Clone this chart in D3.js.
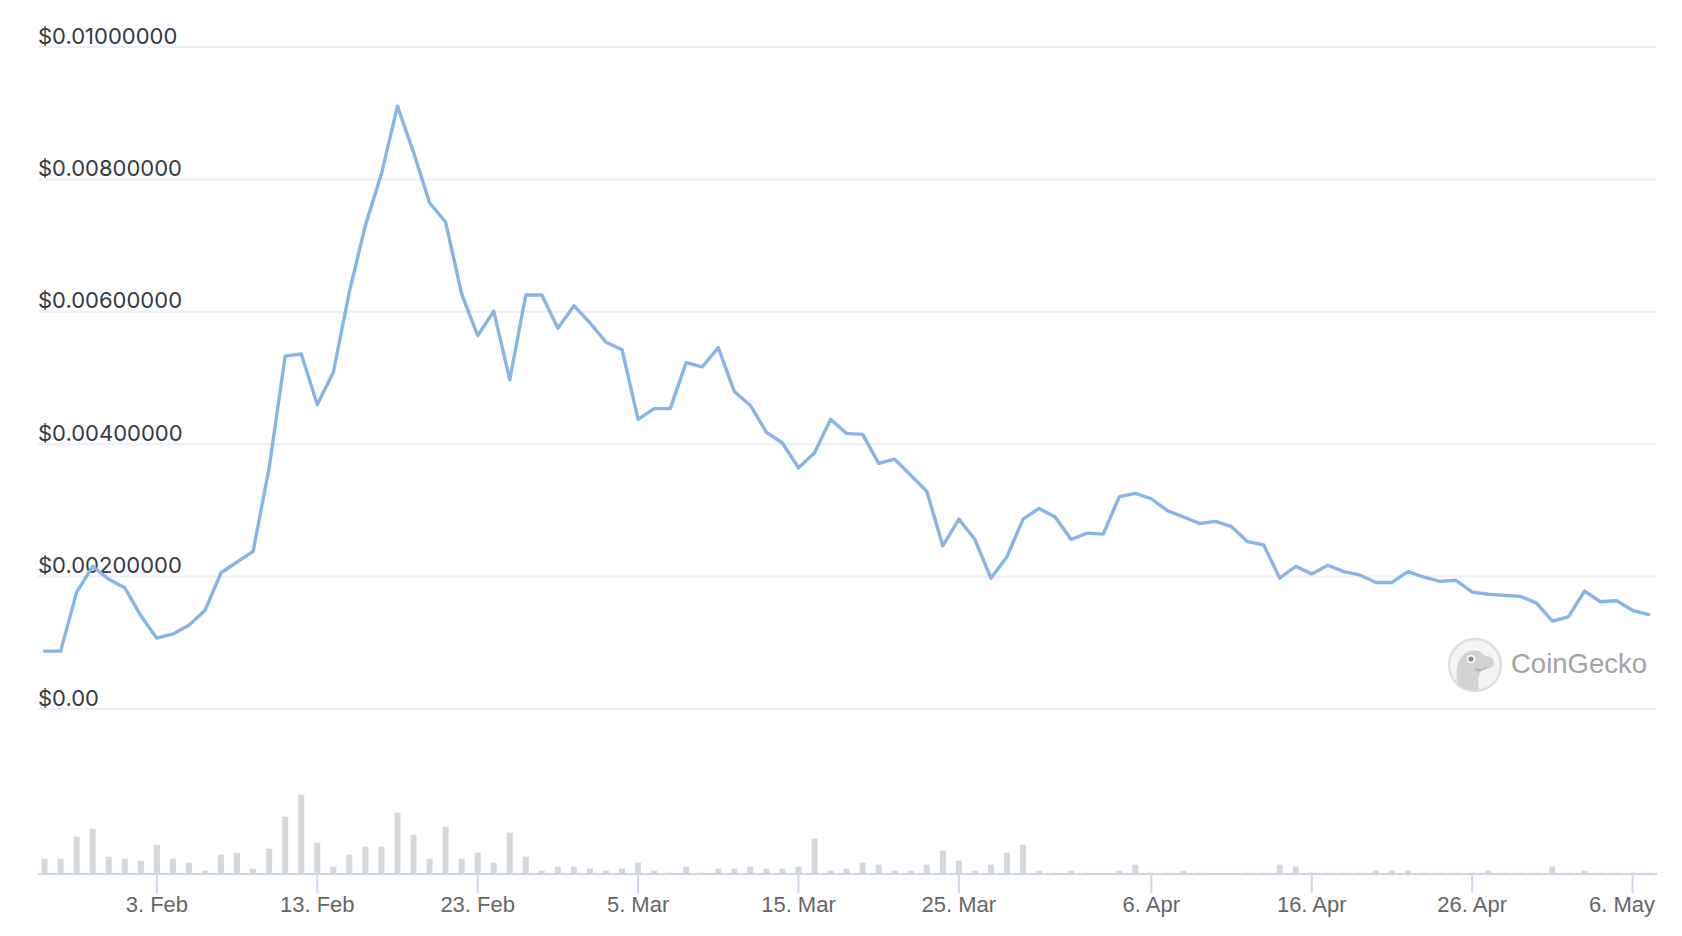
<!DOCTYPE html>
<html>
<head>
<meta charset="utf-8">
<script src="https://cdn.jsdelivr.net/npm/d3@7/dist/d3.min.js"></script>
<style>
  html, body { margin: 0; padding: 0; background: #ffffff; }
  svg { display: block; }
  text { font-family: "Liberation Sans", Arial, Helvetica, sans-serif; }
  .ylab { font-family: Inter, "Liberation Sans", Arial, sans-serif; }
</style>
</head>
<body>
<svg id="chart" width="1682" height="936"></svg>
<script>
// ---------------- DATA ----------------
const startDate = "2023-01-27";          // first daily point
const priceValues = [
  0.000875,0.000875,0.001766,0.002155,0.001960,0.001831,0.001410,0.001069,0.001134,0.001264,
  0.001491,0.002058,0.002220,0.002382,0.003645,0.005331,0.005363,0.004601,0.005087,0.006303,
  0.007307,0.008085,0.009106,0.008409,0.007647,0.007356,0.006270,0.005638,0.006011,0.004974,
  0.006254,0.006254,0.005752,0.006092,0.005833,0.005541,0.005428,0.004375,0.004537,0.004537,
  0.005233,0.005168,0.005460,0.004796,0.004585,0.004180,0.004018,0.003645,0.003872,0.004375,
  0.004164,0.004148,0.003710,0.003775,0.003532,0.003289,0.002463,0.002868,0.002560,0.001977,
  0.002301,0.002868,0.003030,0.002900,0.002560,0.002657,0.002641,0.003208,0.003257,0.003176,
  0.002997,0.002900,0.002803,0.002835,0.002754,0.002528,0.002479,0.001977,0.002155,0.002041,
  0.002171,0.002074,0.002025,0.001912,0.001912,0.002074,0.001993,0.001928,0.001944,0.001766,
  0.001734,0.001717,0.001701,0.001604,0.001329,0.001393,0.001782,0.001620,0.001636,0.001491,0.001426
];
// daily volume (relative units, thousands USD)
const volumeValues = [
  46,46,112,136,52,46,40,88,46,34,
  10,58,64,16,76,172,238,94,22,58,
  82,82,184,118,46,142,46,64,34,124,
  52,10,22,22,16,10,16,34,10,4,
  22,4,16,16,22,16,16,22,106,10,
  16,34,28,10,10,28,70,40,10,28,
  64,88,10,4,10,4,2,10,28,4,
  4,10,4,1,1,4,4,28,22,4,
  4,4,4,10,10,10,4,4,4,4,
  10,4,4,4,22,4,10,4,4,4,4
];
const yTickValues = [0, 0.002, 0.004, 0.006, 0.008, 0.010];
const yTickLabels = ["$0.00", "$0.00200000", "$0.00400000", "$0.00600000", "$0.00800000", "$0.01000000"];
const xTickDates = ["2023-02-03","2023-02-13","2023-02-23","2023-03-05","2023-03-15","2023-03-25",
                    "2023-04-06","2023-04-16","2023-04-26","2023-05-06"];
const xTickLabels = ["3. Feb","13. Feb","23. Feb","5. Mar","15. Mar","25. Mar","6. Apr","16. Apr","26. Apr","6. May"];
const watermark = "CoinGecko";

// ---------------- BUILD ----------------
const parse = d3.utcParse("%Y-%m-%d");
const t0 = parse(startDate);
const dates = priceValues.map((_, i) => d3.utcDay.offset(t0, i));
const data = dates.map((d, i) => ({ date: d, price: priceValues[i], volume: volumeValues[i] }));

const svg = d3.select("#chart");
const plotLeft = 38, plotRight = 1657;

const x = d3.scaleUtc()
  .domain([dates[0], dates[dates.length - 1]])
  .range([44.6, 1648.6]);

const y = d3.scaleLinear().domain([0, 0.01]).range([709, 47]);
const vol = d3.scaleLinear().domain([0, 238]).range([874, 794.7]);

// gridlines + y labels
const yAxis = svg.append("g");
yAxis.selectAll("line.grid")
  .data(yTickValues)
  .join("line")
  .attr("class", "grid")
  .attr("x1", plotLeft).attr("x2", plotRight)
  .attr("y1", d => y(d)).attr("y2", d => y(d))
  .attr("stroke", "#eeeff2").attr("stroke-width", 2);

yAxis.selectAll("text")
  .data(yTickValues)
  .join("text")
  .attr("class", "ylab")
  .attr("x", plotLeft)
  .attr("y", d => y(d) - 3.5)
  .attr("fill", "#343a46")
  .attr("font-size", 22)
  .text((d, i) => yTickLabels[i]);

// watermark
const wm = svg.append("g").attr("transform", "translate(1475,665)");
wm.append("circle").attr("r", 26).attr("fill", "#f4f4f4").attr("stroke", "#dedede").attr("stroke-width", 2.5);
wm.append("path")
  .attr("d", "M-17,19 C-21,4 -16,-11 -5,-14 C3,-16 8,-12 10,-9 C15,-9 19,-6 19,-2 C19,2 14,4 8,5 C4,7 2,13 4,25 C-4,26 -12,24 -17,19 Z")
  .attr("fill", "#d2d2d2");
wm.append("circle").attr("cx", -4).attr("cy", -6).attr("r", 5).attr("fill", "#ffffff").attr("stroke", "#c4c4c4").attr("stroke-width", 1);
wm.append("circle").attr("cx", -4).attr("cy", -6).attr("r", 2.6).attr("fill", "#8c8c8c");
wm.append("path").attr("d", "M0,4 Q6,7 12,2").attr("fill", "none").attr("stroke", "#b0b0b0").attr("stroke-width", 1.5);
svg.append("text")
  .attr("x", 1511).attr("y", 673)
  .attr("font-size", 27.5)
  .attr("fill", "#a3a3a3")
  .text(watermark);

// volume bars
svg.append("g").selectAll("rect")
  .data(data)
  .join("rect")
  .attr("x", d => x(d.date) - 3)
  .attr("width", 6)
  .attr("y", d => vol(d.volume))
  .attr("height", d => vol(0) - vol(d.volume))
  .attr("fill", "#d4d7dc");

// x axis
const xTicks = xTickDates.map(parse);
const xAxisG = svg.append("g");
xAxisG.append("line")
  .attr("x1", plotLeft).attr("x2", plotRight)
  .attr("y1", 874).attr("y2", 874)
  .attr("stroke", "#ccd6eb").attr("stroke-width", 2);
xAxisG.selectAll("line.tick")
  .data(xTicks)
  .join("line")
  .attr("class", "tick")
  .attr("x1", d => x(d)).attr("x2", d => x(d))
  .attr("y1", 874).attr("y2", 893)
  .attr("stroke", "#ccd6eb").attr("stroke-width", 2);
xAxisG.selectAll("text")
  .data(xTicks)
  .join("text")
  .attr("x", d => x(d))
  .attr("y", 912)
  .attr("text-anchor", "middle")
  .attr("fill", "#666666")
  .attr("font-size", 22)
  .text((d, i) => xTickLabels[i])
  .each(function () {
    // keep labels inside the plot (justify overflowing labels)
    const w = this.getComputedTextLength();
    const cx = +this.getAttribute("x");
    if (cx + w / 2 > plotRight) this.setAttribute("x", plotRight - 2 - w / 2);
  });

// price line
const line = d3.line().x(d => x(d.date)).y(d => y(d.price));
svg.append("path")
  .datum(data)
  .attr("d", line)
  .attr("fill", "none")
  .attr("stroke", "#88b4e8")
  .attr("stroke-width", 3.4)
  .attr("stroke-linejoin", "round")
  .attr("stroke-linecap", "round");
</script>
</body>
</html>
